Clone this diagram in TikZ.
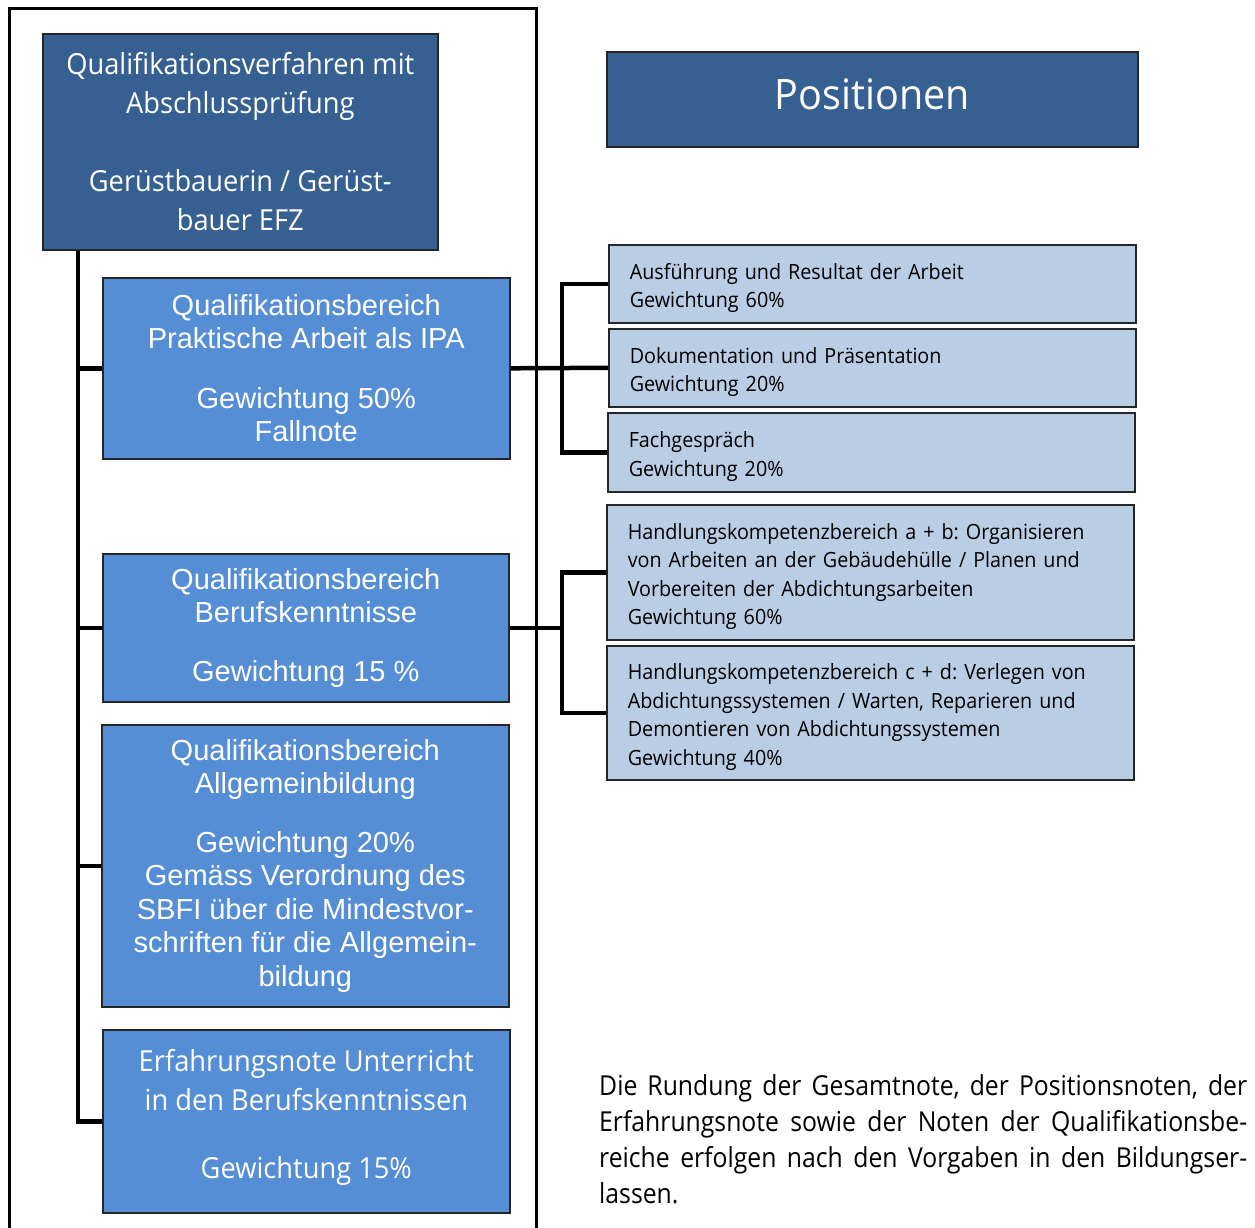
\documentclass[tikz,border=0pt]{standalone}
\usepackage{fontspec}
\setmainfont{Liberation Sans}
\newfontfamily\seg[FakeStretch=0.94]{Open Sans}
\newfontfamily\parfont[FakeStretch=0.9]{Open Sans}
\newfontfamily\ari{Liberation Sans}
\definecolor{dkblue}{HTML}{376092}
\definecolor{mdblue}{HTML}{558ED5}
\definecolor{ltblue}{HTML}{B9CDE5}
\frenchspacing
\tikzset{
  box/.style={draw=black!85, line width=1.6pt, anchor=north west, inner sep=0pt, align=center, text=white},
  dark/.style={box, fill=dkblue},
  mid/.style={box, fill=mdblue, font=\ari\fontsize{29}{33.5}\selectfont},
  lt/.style={box, fill=ltblue, text=black, align=left, inner xsep=21pt, text width=485pt, font=\seg\fontsize{21}{28.5}\selectfont},
  conn/.style={line width=4.5pt, line join=miter},
  frame/.style={line width=3pt}
}
\newcommand{\dn}{\rule{0pt}{24pt}}
\begin{document}
\frenchspacing
\begin{tikzpicture}[x=1pt,y=-1pt]
\useasboundingbox (0,0) rectangle (1255,1228);
\draw[frame] (9,1228) -- (9,9) -- (536,9) -- (536,1228);
\coordinate (tk) at (78,0);
\coordinate (bx) at (562,0);

\node[dark, minimum width=395pt, minimum height=216pt, font=\seg\fontsize{29}{39}\selectfont] (top) at (42,33)
  {Qualifikationsverfahren mit\\Abschlussprüfung\\[39pt]Gerüstbauerin / Gerüst-\\bauer EFZ};
\node[dark, minimum width=531pt, minimum height=95pt, font=\seg\fontsize{42}{50}\selectfont] (pos) at (606,51) {Positionen\rule[-10pt]{0pt}{1pt}};

\node[mid, minimum width=407pt, minimum height=181pt] (b1) at (102,277)
  {Qualifikationsbereich\\Praktische Arbeit als IPA\\[26pt]Gewichtung 50\%\\Fallnote};
\node[mid, minimum width=406pt, minimum height=148pt] (b2) at (102,553)
  {Qualifikationsbereich\\Berufskenntnisse\\[25pt]Gewichtung 15 \%};
\node[mid, minimum width=407pt, minimum height=282pt] (b3) at (101,724)
  {Qualifikationsbereich\\Allgemeinbildung\\[25pt]Gewichtung 20\%\\Gemäss Verordnung des\\SBFI über die Mindestvor-\\schriften für die Allgemein-\\bildung};
\node[mid, minimum width=407pt, minimum height=183pt, font=\seg\fontsize{29}{39}\selectfont] (b4) at (102,1029)
  {Erfahrungsnote Unterricht\\in den Berufskenntnissen\\[29pt]Gewichtung 15\%\rule[-14pt]{0pt}{1pt}};

\node[lt, minimum height=78pt] (r1) at (608,244) {\dn Ausführung und Resultat der Arbeit\\Gewichtung 60\%};
\node[lt, minimum height=78pt] (r2) at (608,328) {\dn Dokumentation und Präsentation\\Gewichtung 20\%};
\node[lt, minimum height=79pt] (r3) at (607,412) {\dn Fachgespräch\\Gewichtung 20\%};
\node[lt, minimum height=135pt] (r4) at (606,504) {\dn Handlungskompetenzbereich a + b: Organisieren\\von Arbeiten an der Gebäudehülle / Planen und\\Vorbereiten der Abdichtungsarbeiten\\Gewichtung 60\%};
\node[lt, minimum height=134pt] (r5) at (606,645) {\dn Handlungskompetenzbereich c + d: Verlegen von\\Abdichtungssystemen / Warten, Reparieren und\\Demontieren von Abdichtungssystemen\\Gewichtung 40\%};

\draw[conn] (top.south -| tk) -- (b4.west -| tk) -- (b4.west);
\draw[conn] (b1.west -| tk) -- (b1.west);
\draw[conn] (b2.west -| tk) -- (b2.west);
\draw[conn] (b3.west -| tk) -- (b3.west);

\draw[conn] (b1.east) -- (r2.west);
\draw[conn] (r1.west) -- (r1.west -| bx) -- (r3.west -| bx) -- (r3.west);
\draw[conn] (b2.east) -- (b2.east -| bx);
\draw[conn] (r4.west) -- (r4.west -| bx) -- (r5.west -| bx) -- (r5.west);

\node[anchor=north west, inner sep=0pt, align=left, font=\parfont\fontsize{27.5}{36}\selectfont] (para) at (599,1074)
  {\hbox to 648pt{Die Rundung der Gesamtnote, der Positionsnoten, der}\\
   \hbox to 648pt{Erfahrungsnote sowie der Noten der Qualifikationsbe-}\\
   \hbox to 648pt{reiche erfolgen nach den Vorgaben in den Bildungser-}\\
   lassen.};
\end{tikzpicture}
\end{document}
